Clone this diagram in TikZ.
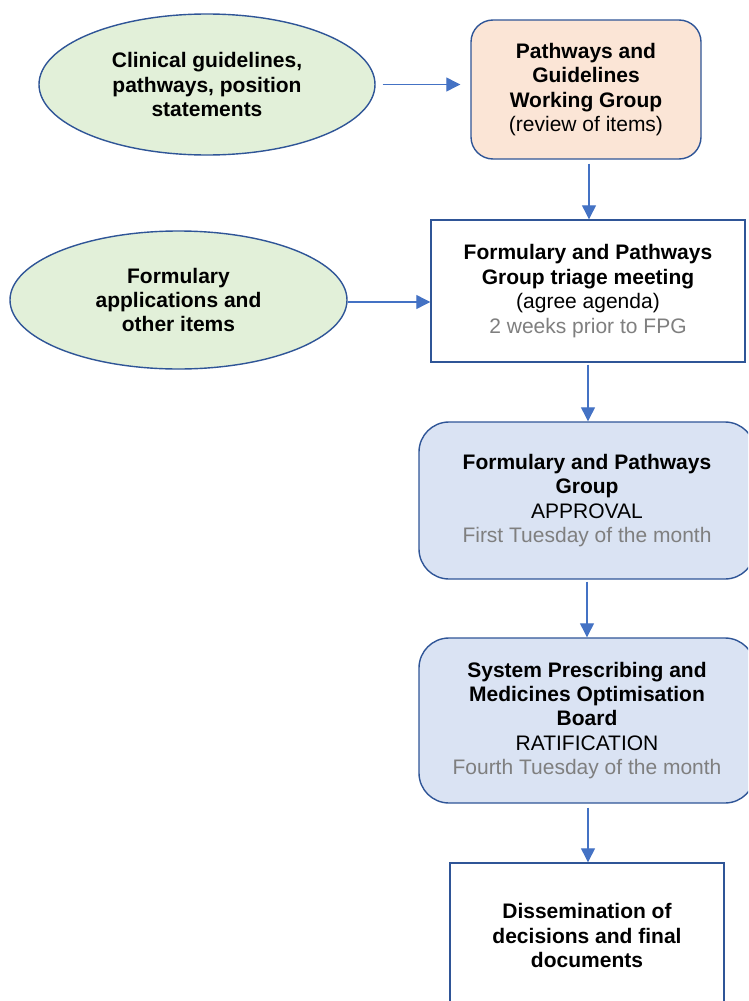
\documentclass[tikz,border=0pt]{standalone}
\usepackage{fontspec}
\setmainfont{Liberation Sans}
\usetikzlibrary{shapes.geometric,arrows.meta}
\definecolor{bordblue}{HTML}{2F5597}
\definecolor{arrblue}{HTML}{4472C4}
\definecolor{greenfill}{HTML}{E2F0D9}
\definecolor{peachfill}{HTML}{FBE5D6}
\definecolor{bluefill}{HTML}{DAE3F3}
\definecolor{greytext}{HTML}{7F7F7F}
\begin{document}
\begin{tikzpicture}[x=1pt,y=-1pt,
  every node/.style={font=\fontsize{21}{24.4}\selectfont, align=center, inner sep=0pt},
  oval/.style={ellipse, draw=bordblue, line width=1.4pt, fill=greenfill},
  softbox/.style={rectangle, rounded corners=#1, draw=bordblue, line width=1.4pt},
  plainbox/.style={rectangle, draw=bordblue, line width=1.4pt, fill=white},
  flow/.style={draw=arrblue, line width=1.2pt, -{Triangle[length=14pt,width=14pt]}}]
\useasboundingbox (0,0) rectangle (748,1001);
\clip (0,0) rectangle (748,1001);

\node[oval, minimum width=336pt, minimum height=141pt] (e1) at (207,84.5)
  {\textbf{Clinical guidelines,}\\\textbf{pathways, position}\\\textbf{statements}};
\node[oval, minimum width=337pt, minimum height=138pt] (e2) at (178.5,300)
  {\textbf{Formulary}\\\textbf{applications and}\\\textbf{other items}};

\node[softbox=22pt, fill=peachfill, minimum width=230pt, minimum height=139pt] (pg) at (586,89.5)
  {\textbf{Pathways and}\\\textbf{Guidelines}\\\textbf{Working Group}\\(review of items)};

\node[plainbox, minimum width=314pt, minimum height=142pt] (tr) at (588,291)
  {\textbf{Formulary and Pathways}\\\textbf{Group triage meeting}\\(agree agenda)\\{\color{greytext}2 weeks prior to FPG}};

\node[softbox=30pt, fill=bluefill, minimum width=336pt, minimum height=157pt] (fpg) at (587,500.5)
  {\textbf{Formulary and Pathways}\\\textbf{Group}\\APPROVAL\\{\color{greytext}First Tuesday of the month}};

\node[softbox=30pt, fill=bluefill, minimum width=336pt, minimum height=165pt] (spm) at (587,720.5)
  {\textbf{System Prescribing and}\\\textbf{Medicines Optimisation}\\\textbf{Board}\\RATIFICATION\\{\color{greytext}Fourth Tuesday of the month}};

\node[plainbox, minimum width=274pt, minimum height=145pt] (dis) at (587,935.5)
  {\textbf{Dissemination of}\\\textbf{decisions and final}\\\textbf{documents}};

\draw[flow, shorten <=7pt, shorten >=10pt] (e1.east) -- (e1.east -| pg.west);
\draw[flow, shorten <=4pt] ([xshift=3pt]pg.south) -- ([xshift=3pt]pg.south |- tr.north);
\draw[flow] ([yshift=-2pt]e2.east) -- ([yshift=-2pt]e2.east -| tr.west);
\draw[flow, shorten <=2pt] (tr.south) -- (tr.south |- fpg.north);
\draw[flow, shorten <=2pt] (fpg.south) -- (spm.north);
\draw[flow, shorten <=4pt] ([xshift=1pt]spm.south) -- ([xshift=1pt]spm.south |- dis.north);
\end{tikzpicture}
\end{document}
